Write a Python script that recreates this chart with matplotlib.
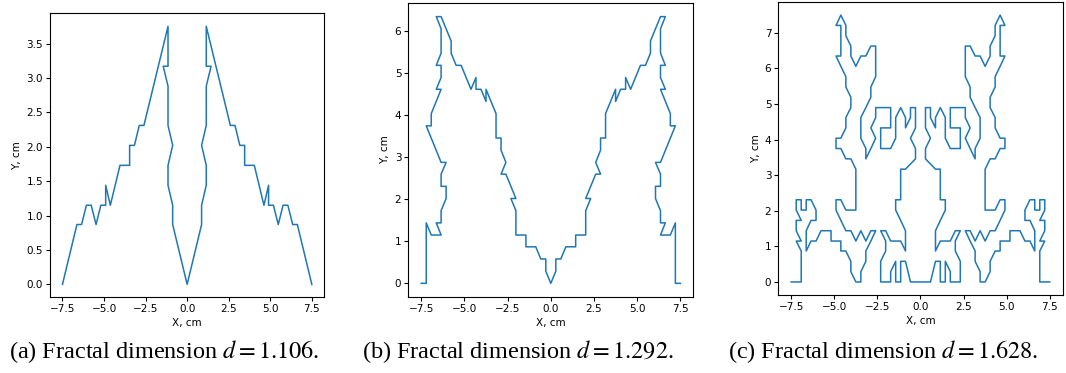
import matplotlib
matplotlib.use("Agg")
import matplotlib.pyplot as plt

# (a) d = 1.106
a_x = [-7.50, -6.63, -6.35, -6.06, -5.77, -5.48, -5.19, -4.90, -4.90, -4.62, -4.04, -3.46, -3.46, -3.17,
       -2.88, -2.60, -1.15, -1.15, -1.44, -1.15, -1.15, -0.87, -1.15, -1.15, -0.87, -0.87, 0.00,
       0.87, 0.87, 1.15, 1.15, 0.87, 1.15, 1.15, 1.44, 1.15, 1.15, 2.60, 2.88, 3.17, 3.46, 3.46,
       4.04, 4.62, 4.90, 4.90, 5.19, 5.48, 5.77, 6.06, 6.35, 6.63, 7.50]
a_y = [0.00, 0.87, 0.87, 1.15, 1.15, 0.87, 1.15, 1.15, 1.44, 1.15, 1.73, 1.73, 2.02, 2.02,
       2.31, 2.31, 3.75, 3.17, 3.17, 2.88, 2.31, 2.02, 1.73, 1.44, 1.15, 0.87, 0.00,
       0.87, 1.15, 1.44, 1.73, 2.02, 2.31, 2.88, 3.17, 3.17, 3.75, 2.31, 2.31, 2.02, 2.02, 1.73,
       1.73, 1.15, 1.44, 1.15, 1.15, 0.87, 1.15, 1.15, 0.87, 0.87, 0.00]

# (b) d = 1.292
b_x = [-7.50, -7.21, -7.21, -6.92, -6.35, -6.63, -6.35, -6.35, -6.06, -6.06, -6.35, -6.35, -6.06, -6.35,
       -7.21, -6.92, -6.92, -6.35, -6.63, -6.35, -6.35, -6.63, -6.35, -6.35, -6.63, -6.35, -5.77, -5.77,
       -5.48, -5.19, -4.62, -4.33, -4.33, -4.04, -3.75, -3.75, -3.17, -3.17, -2.88, -2.88, -2.60, -2.88,
       -2.60, -2.02, -2.31, -2.02, -2.02, -1.44, -1.44, -0.87, -0.58, -0.29, -0.29, 0.00,
       0.29, 0.29, 0.58, 0.87, 1.44, 1.44, 2.02, 2.02, 2.31, 2.02, 2.60, 2.88, 2.60, 2.88, 2.88, 3.17,
       3.17, 3.75, 3.75, 4.04, 4.33, 4.33, 4.62, 5.19, 5.48, 5.77, 5.77, 6.35, 6.63, 6.35, 6.35, 6.63,
       6.35, 6.35, 6.63, 6.35, 6.92, 6.92, 7.21, 6.35, 6.06, 6.35, 6.35, 6.06, 6.06, 6.35, 6.35, 6.63,
       6.35, 6.92, 7.21, 7.21, 7.50]
b_y = [0.00, 0.00, 1.44, 1.15, 1.15, 1.44, 1.44, 1.73, 2.02, 2.31, 2.31, 2.60, 2.88, 2.88,
       3.75, 3.75, 4.04, 4.62, 4.62, 4.90, 5.19, 5.19, 5.48, 6.06, 6.35, 6.35, 5.77, 5.48,
       5.19, 5.19, 4.62, 4.90, 4.62, 4.62, 4.33, 4.62, 4.04, 3.46, 3.46, 3.17, 2.88, 2.60,
       2.60, 2.02, 2.02, 1.73, 1.15, 1.15, 0.87, 0.87, 0.58, 0.58, 0.29, 0.00,
       0.29, 0.58, 0.58, 0.87, 0.87, 1.15, 1.15, 1.73, 2.02, 2.02, 2.60, 2.60, 2.88, 3.17, 3.46, 3.46,
       4.04, 4.62, 4.33, 4.62, 4.62, 4.90, 4.62, 5.19, 5.19, 5.48, 5.77, 6.35, 6.35, 6.06, 5.48, 5.19,
       5.19, 4.90, 4.62, 4.62, 4.04, 3.75, 3.75, 2.88, 2.88, 2.60, 2.31, 2.31, 2.02, 1.73, 1.44, 1.44,
       1.15, 1.15, 1.44, 0.00, 0.00]

# (c) d = 1.628, left half (to the centre) then right half
c_x_left = [-7.50, -6.92, -6.92, -7.21, -6.92, -7.21, -7.21, -6.92, -7.21, -7.21,
            -6.92, -6.92, -6.63, -6.63, -6.35, -6.06, -6.06, -6.35, -6.63, -6.63,
            -6.35, -6.06, -5.77, -5.19, -5.19, -4.90, -4.62, -4.62, -4.33, -4.04,
            -4.04, -3.75, -3.46, -3.46, -3.17, -3.17, -2.88, -2.60, -2.88, -3.17,
            -3.46, -3.75, -4.04, -4.33, -4.62, -4.90, -4.90, -4.62, -4.33, -3.75,
            -3.75, -4.04, -4.33, -4.62, -4.90, -4.90, -4.62, -4.33, -4.33, -4.04,
            -4.04, -4.33, -4.33, -4.62, -4.90, -4.62, -4.62, -4.90, -4.62, -4.33,
            -4.33, -4.04, -4.04, -3.75, -3.46, -3.17, -2.88, -2.60, -2.60, -2.88,
            -2.88, -3.17, -3.46, -3.46, -3.17, -3.17, -2.88, -2.60, -2.88, -2.60,
            -2.60, -1.73, -1.73, -2.31, -2.31, -1.73, -1.44, -1.44, -1.15, -0.87,
            -0.87, -0.58, -0.58, -0.29, -0.29, -0.58, -0.29, -0.29, -0.87, -1.15,
            -1.15, -1.44, -1.44, -1.15, -0.87, -0.87, -1.15, -1.73, -2.02, -2.31,
            -2.02, -2.02, -2.31, -2.31, -1.73, -1.73, -1.44, -1.44, -1.15, -1.15,
            -0.87, -0.58, 0.00]
c_y_left = [0.00, 0.00, 0.87, 1.15, 1.15, 1.44, 1.73, 1.73, 2.02, 2.31,
            2.31, 2.02, 2.02, 2.31, 2.31, 2.02, 1.73, 1.73, 1.44, 0.87,
            1.15, 1.15, 1.44, 1.44, 1.15, 1.15, 1.15, 0.87, 0.87, 0.58,
            0.29, 0.00, 0.00, 0.29, 0.58, 0.87, 1.15, 1.44, 1.44, 1.15,
            1.44, 1.15, 1.44, 1.44, 1.73, 2.02, 2.31, 2.31, 2.02, 2.02,
            3.17, 3.46, 3.46, 3.75, 3.75, 4.04, 4.04, 4.33, 4.62, 4.90,
            5.19, 5.48, 5.77, 6.06, 6.35, 6.35, 7.21, 7.21, 7.50, 7.21,
            6.92, 6.63, 6.35, 6.06, 6.35, 6.35, 6.63, 6.63, 5.77, 5.48,
            5.19, 4.90, 4.62, 4.04, 3.75, 3.46, 3.75, 4.04, 4.33, 4.62,
            4.90, 4.90, 4.33, 4.33, 3.75, 3.75, 4.04, 4.62, 4.90, 4.62,
            4.33, 4.62, 4.90, 4.90, 4.33, 4.04, 3.75, 3.46, 3.17, 3.17,
            2.31, 2.31, 2.02, 1.73, 1.44, 0.87, 1.15, 1.15, 1.44, 1.44,
            1.15, 0.87, 0.58, 0.00, 0.00, 0.29, 0.58, 0.00, 0.00, 0.58,
            0.58, 0.00, 0.00]
c_x_right = [0.58, 0.87, 1.15, 1.15, 1.44, 1.44, 1.73, 1.73, 2.31, 2.31,
             2.02, 2.02, 2.31, 2.02, 1.73, 1.15, 0.87, 0.87, 1.15, 1.44,
             1.44, 1.15, 1.15, 0.87, 0.29, 0.29, 0.58, 0.29, 0.29, 0.58,
             0.58, 0.87, 0.87, 1.15, 1.44, 1.44, 1.73, 2.31, 2.31, 1.73,
             1.73, 2.60, 2.60, 2.88, 2.60, 2.88, 3.17, 3.17, 3.46, 3.46,
             3.17, 2.88, 2.88, 2.60, 2.60, 2.88, 3.17, 3.46, 3.75, 4.04,
             4.04, 4.33, 4.33, 4.62, 4.90, 4.62, 4.62, 4.90, 4.62, 4.33,
             4.33, 4.04, 4.04, 4.33, 4.33, 4.62, 4.90, 4.90, 4.62, 4.33,
             4.04, 3.75, 3.75, 4.33, 4.62, 4.90, 4.90, 4.62, 4.33, 4.04,
             3.75, 3.46, 3.17, 2.88, 2.60, 2.88, 3.17, 3.17, 3.46, 3.46,
             3.75, 4.04, 4.04, 4.33, 4.62, 4.62, 4.90, 5.19, 5.19, 5.77,
             6.06, 6.35, 6.63, 6.63, 6.35, 6.06, 6.06, 6.35, 6.63, 6.63,
             6.92, 6.92, 7.21, 7.21, 6.92, 7.21, 7.21, 6.92, 7.21, 6.92,
             6.92, 7.50]
c_y_right = [0.00, 0.58, 0.58, 0.00, 0.00, 0.58, 0.29, 0.00, 0.00, 0.58,
             0.87, 1.15, 1.44, 1.44, 1.15, 1.15, 0.87, 1.44, 1.73, 2.02,
             2.31, 2.31, 3.17, 3.17, 3.46, 3.75, 4.04, 4.33, 4.90, 4.90,
             4.62, 4.33, 4.62, 4.90, 4.62, 4.04, 3.75, 3.75, 4.33, 4.33,
             4.90, 4.90, 4.62, 4.33, 4.04, 3.75, 3.46, 3.75, 4.04, 4.62,
             4.90, 5.19, 5.48, 5.77, 6.63, 6.63, 6.35, 6.35, 6.06, 6.35,
             6.63, 6.92, 7.21, 7.50, 7.21, 7.21, 6.35, 6.35, 6.06, 5.77,
             5.48, 5.19, 4.90, 4.62, 4.33, 4.04, 4.04, 3.75, 3.75, 3.46,
             3.46, 3.17, 2.02, 2.02, 2.31, 2.31, 2.02, 1.73, 1.44, 1.44,
             1.15, 1.44, 1.15, 1.44, 1.44, 1.15, 0.87, 0.58, 0.29, 0.00,
             0.00, 0.29, 0.58, 0.87, 0.87, 1.15, 1.15, 1.15, 1.44, 1.44,
             1.15, 1.15, 0.87, 1.44, 1.73, 1.73, 2.02, 2.31, 2.31, 2.02,
             2.02, 2.31, 2.31, 2.02, 1.73, 1.73, 1.44, 1.15, 1.15, 0.87,
             0.00, 0.00]

captions = ["(a) Fractal dimension $d = 1.106$.",
            "(b) Fractal dimension $d = 1.292$.",
            "(c) Fractal dimension $d = 1.628$."]

plt.rcParams['font.size'] = 7.5
plt.rcParams['mathtext.fontset'] = 'stix'

fig = plt.figure(figsize=(10.66, 3.73), dpi=100)
ax1 = fig.add_axes([0.0469, 0.203, 0.2573, 0.761])
ax2 = fig.add_axes([0.383, 0.2046, 0.2674, 0.7866])
ax3 = fig.add_axes([0.7301, 0.2083, 0.2668, 0.787])

ax1.plot(a_x, a_y, lw=1.1)
ax2.plot(b_x, b_y, lw=1.1)
ax3.plot(c_x_left + c_x_right, c_y_left + c_y_right, lw=1.1)

for ax in (ax1, ax2, ax3):
    ax.set_xlabel("X, cm", labelpad=3)
    ax.set_ylabel("Y, cm", labelpad=3)
    ax.tick_params(length=3, pad=2)

ax1.set_xticks([-7.5, -5.0, -2.5, 0.0, 2.5, 5.0, 7.5])
ax1.set_yticks([0.0, 0.5, 1.0, 1.5, 2.0, 2.5, 3.0, 3.5])
ax2.set_xticks([-7.5, -5.0, -2.5, 0.0, 2.5, 5.0, 7.5])
ax3.set_xticks([-7.5, -5.0, -2.5, 0.0, 2.5, 5.0, 7.5])

for xc, txt in zip([164, 518, 883], captions):
    fig.text(xc / 1066, 0.058, txt, ha='center', va='center',
             family='Liberation Serif', fontsize=17.5)

fig.savefig("out.png", dpi=100)
